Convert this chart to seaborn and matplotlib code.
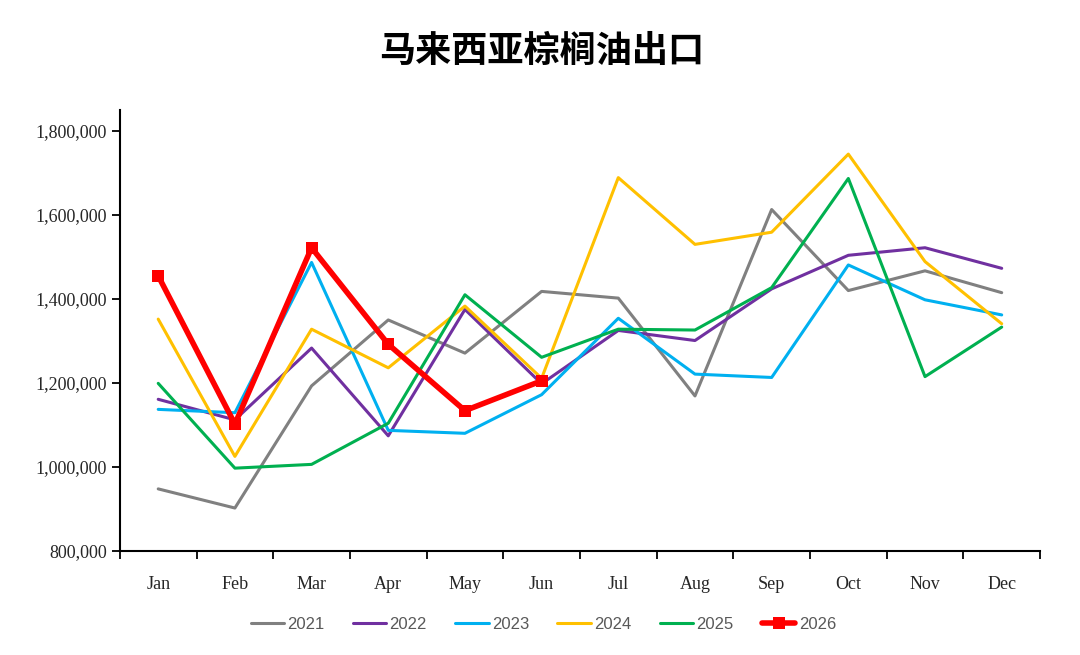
import pandas as pd
import seaborn as sns
import matplotlib.pyplot as plt
import numpy as np
from matplotlib.ticker import FuncFormatter, FixedLocator

# Malaysia palm oil exports, monthly (tonnes)
months = ['Jan', 'Feb', 'Mar', 'Apr', 'May', 'Jun',
          'Jul', 'Aug', 'Sep', 'Oct', 'Nov', 'Dec']
years = ['2021', '2022', '2023', '2024', '2025', '2026']

exp_2021 = [947600, 902000, 1193000, 1350000, 1271000, 1418000,
            1402000, 1169000, 1613000, 1420000, 1467000, 1415000]
exp_2022 = [1161000, 1112000, 1283000, 1074000, 1375000, 1198000,
            1325000, 1301000, 1424000, 1504000, 1522000, 1473000]
exp_2023 = [1137000, 1129000, 1487000, 1087000, 1080000, 1172000,
            1354000, 1221000, 1213000, 1481000, 1398000, 1362000]
exp_2024 = [1352000, 1025000, 1328000, 1236000, 1383000, 1211000,
            1689000, 1530000, 1559000, 1745000, 1489000, 1341000]
exp_2025 = [1199000, 997000, 1006000, 1104000, 1410000, 1261000,
            1328000, 1326000, 1427000, 1687000, 1215000, 1333000]
exp_2026 = [1455000, 1102000, 1522000, 1292000, 1134000, 1205000]

series = [exp_2021, exp_2022, exp_2023, exp_2024, exp_2025, exp_2026]
colors = ['#808080', '#7030A0', '#00B0F0', '#FFC000', '#00B050', '#FF0000']

rows = []
for yr, vals in zip(years, series):
    for i, v in enumerate(vals):
        rows.append({'year': yr, 'month': i, 'value': v})
df = pd.DataFrame(rows)

sns.set_style("white")
plt.rcParams['font.family'] = ['Liberation Serif', 'DejaVu Serif']

fig = plt.figure(figsize=(10.8, 6.55), dpi=100)
ax = fig.add_axes([0.111, 0.159, 0.852, 0.673])

palette = dict(zip(years, colors))
sns.lineplot(data=df[df['year'] != '2026'], x='month', y='value', hue='year',
             palette=palette, linewidth=2.2, ax=ax, legend=False)
sns.lineplot(data=df[df['year'] == '2026'], x='month', y='value', color=colors[5],
             linewidth=4, marker='s', markersize=8, markeredgewidth=0, ax=ax, legend=False)

ax.set_xlim(-0.5, 11.5)
ax.set_ylim(800000, 1850000)
ax.set_yticks(np.arange(800000, 1800001, 200000))
ax.yaxis.set_major_formatter(FuncFormatter(lambda v, p: f'{int(v):,}'))

ax.xaxis.set_major_locator(FixedLocator(np.arange(-0.5, 12, 1)))
ax.xaxis.set_minor_locator(FixedLocator(np.arange(12)))
ax.set_xticklabels([], minor=False)
ax.set_xticklabels(months, minor=True)
ax.tick_params(axis='x', which='major', bottom=True, direction='out', length=6,
               width=1.3, color='black')
ax.tick_params(axis='x', which='minor', bottom=True, length=0, pad=18,
               labelsize=13, labelcolor='#262626')
ax.tick_params(axis='y', left=True, direction='out', length=6, width=1.3, color='black',
               labelsize=13, labelcolor='#262626')
ax.set_xlabel('')
ax.set_ylabel('')

for s in ['top', 'right']:
    ax.spines[s].set_visible(False)
for s in ['left', 'bottom']:
    ax.spines[s].set_color('black')
    ax.spines[s].set_linewidth(1.5)

fig.text(0.502, 0.922, '马来西亚棕榈油出口', ha='center', va='center', color='black',
         fontsize=26, fontweight='bold', family=['Noto Sans CJK SC', 'DejaVu Sans'])

handles = []
for yr, c in zip(years, colors):
    if yr == '2026':
        h, = ax.plot([], [], color=c, linewidth=4, marker='s', markersize=8, markeredgewidth=0)
    else:
        h, = ax.plot([], [], color=c, linewidth=2.2)
    handles.append(h)
fig.legend(handles, years, loc='center', bbox_to_anchor=(0.503, 0.047), ncol=6,
           frameon=False, handlelength=2.0, handletextpad=0.2, columnspacing=1.7,
           prop={'family': 'Liberation Sans', 'size': 12}, labelcolor='#595959')

plt.savefig('out.png', dpi=100)
